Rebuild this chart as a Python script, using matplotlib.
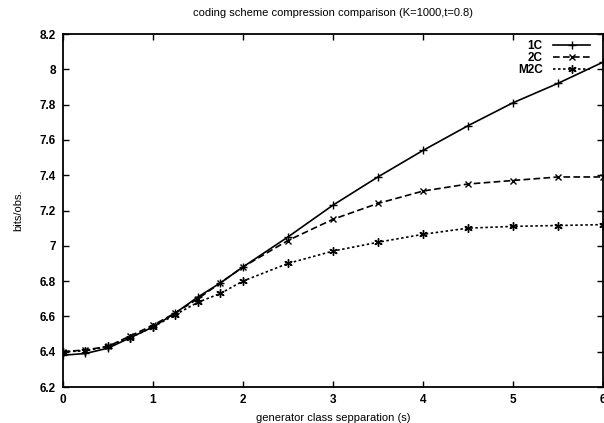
import matplotlib

matplotlib.use("Agg")
import matplotlib.pyplot as plt

plt.rcParams["font.family"] = ["Liberation Sans", "DejaVu Sans"]
plt.rcParams["font.size"] = 8.5
plt.rcParams["font.weight"] = "bold"

# separation values (x) and bits/obs. for each scheme
sep = [0, 0.25, 0.5, 0.75, 1, 1.25, 1.5, 1.75, 2, 2.5, 3, 3.5, 4, 4.5, 5, 5.5, 6]
bits_1c = [6.38, 6.39, 6.42, 6.48, 6.54, 6.62, 6.71, 6.79, 6.88, 7.05, 7.23, 7.39, 7.54, 7.68, 7.81, 7.92, 8.04]
bits_2c = [6.40, 6.41, 6.43, 6.49, 6.55, 6.62, 6.70, 6.79, 6.88, 7.03, 7.15, 7.24, 7.31, 7.35, 7.37, 7.39, 7.39]
bits_m2c = [6.40, 6.405, 6.43, 6.48, 6.54, 6.61, 6.68, 6.73, 6.80, 6.90, 6.97, 7.02, 7.065, 7.10, 7.11, 7.115, 7.12]

x_ticks = [0, 1, 2, 3, 4, 5, 6]
y_ticks = [6.2, 6.4, 6.6, 6.8, 7.0, 7.2, 7.4, 7.6, 7.8, 8.0, 8.2]
y_tick_labels = ["6.2", "6.4", "6.6", "6.8", "7", "7.2", "7.4", "7.6", "7.8", "8", "8.2"]

fig = plt.figure(figsize=(6.04, 4.23), dpi=100)
ax = fig.add_axes([0.1043, 0.0851, 0.8937, 0.8345])

ax.plot(sep, bits_1c, color="black", lw=1.2, ls="-", marker="+", ms=6, mew=1.0, label="1C")
ax.plot(sep, bits_2c, color="black", lw=1.2, ls=(0, (4, 2)), marker="x", ms=5, mew=1.0, label="2C")
ax.plot(sep, bits_m2c, color="black", lw=1.2, ls=(0, (1.5, 1.5)), marker=(6, 2, 0), ms=6, mew=1.0, label="M2C")

ax.set_xlim(0, 6)
ax.set_ylim(6.2, 8.2)
ax.set_xticks(x_ticks)
ax.set_xticklabels([str(t) for t in x_ticks])
ax.set_yticks(y_ticks)
ax.set_yticklabels(y_tick_labels)
ax.tick_params(direction="in", top=True, right=True, length=4, width=1.0, pad=5)
for s in ax.spines.values():
    s.set_linewidth(1.3)

ax.set_title("coding scheme compression comparison (K=1000,t=0.8)", fontsize=8, fontweight="normal", pad=13)
ax.set_xlabel("generator class sepparation (s)", fontsize=8, fontweight="normal", labelpad=5)
ax.set_ylabel("bits/obs.", fontsize=8, fontweight="normal", labelpad=12)

leg = ax.legend(loc="upper right", bbox_to_anchor=(0.976, 0.984), frameon=False, markerfirst=False,
                handlelength=3.1, labelspacing=0.0, borderaxespad=0.0, borderpad=0.0, handletextpad=0.9)
for t in leg.get_texts():
    t.set_ha("right")

fig.savefig("out.png", dpi=100)
